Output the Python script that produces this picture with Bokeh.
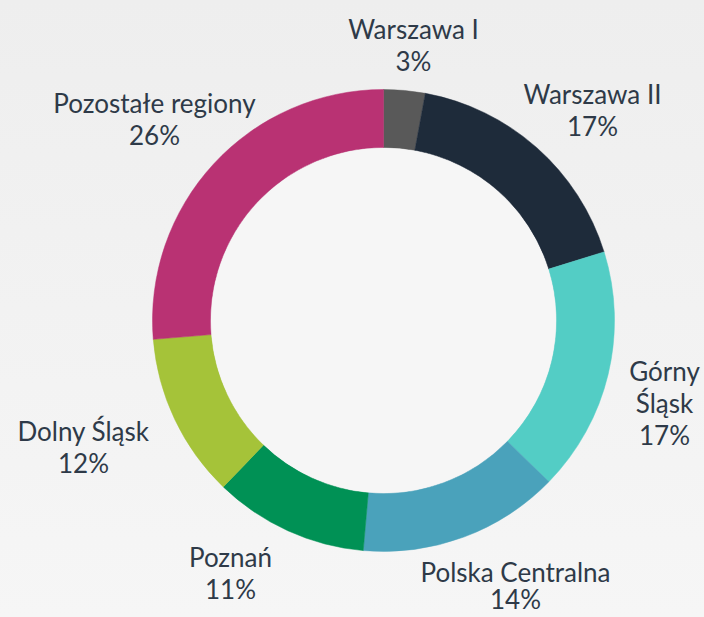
import numpy as np
from bokeh.plotting import figure
from bokeh.models import ColumnDataSource
from bokeh.core.properties import value
from bokeh.embed import file_html
from bokeh.resources import INLINE

# data (shares; labels show rounded values)
regions = ["Warszawa I", "Warszawa II", "Górny Śląsk", "Polska Centralna",
           "Poznań", "Dolny Śląsk", "Pozostałe regiony"]
shares = [2.9, 17.3, 17.1, 14.1, 10.8, 11.5, 26.3]
pct_labels = ["3%", "17%", "17%", "14%", "11%", "12%", "26%"]
colors = ["#595959", "#1e2b3a", "#53cdc5", "#4aa2bb", "#009155", "#a5c339", "#b93273"]

# label layout: name lines, x centre, first-line y centre (top-left origin), line step
label_layout = [
    (["Warszawa I"], 413, 28, 32),
    (["Warszawa II"], 592, 93, 32),
    (["Górny", "Śląsk"], 664, 370, 32),
    (["Polska Centralna"], 515, 571, 27),
    (["Poznań"], 230, 556, 32),
    (["Dolny Śląsk"], 83, 430, 32),
    (["Pozostałe regiony"], 154, 102, 32),
]

W, H = 704, 617
CX, CY = 383, H - 320
R_OUT, R_IN = 231, 173

p = figure(width=W, height=H, x_range=(0, W), y_range=(0, H),
           output_backend="svg", toolbar_location=None, min_border=0,
           background_fill_color=None, border_fill_color=None)
p.axis.visible = False
p.grid.visible = False
p.outline_line_color = None

frac = np.array(shares, dtype=float) / sum(shares)
cum = np.concatenate([[0], np.cumsum(frac)])
start = np.pi / 2 - 2 * np.pi * cum[1:]
end = np.pi / 2 - 2 * np.pi * cum[:-1]

src = ColumnDataSource(dict(x=[CX] * len(shares), y=[CY] * len(shares),
                            start=start, end=end, color=colors, region=regions))
p.annular_wedge(x="x", y="y", inner_radius=R_IN, outer_radius=R_OUT,
                start_angle="start", end_angle="end", direction="anticlock",
                fill_color="color", line_color="color", line_width=0.5, source=src)
p.circle(x=[CX], y=[CY], radius=R_IN - 0.5, fill_color="#f6f6f6", line_color=None)

tx, ty, tt = [], [], []
for (lines, x, y, step), pct in zip(label_layout, pct_labels):
    for i, t in enumerate(lines + [pct]):
        tx.append(x)
        ty.append(H - (y + i * step))
        tt.append(t)
p.text(x=tx, y=ty, text=tt, text_align="center", text_baseline="middle",
       text_font=value("Lato"), text_font_size="26px", text_color="#2e3a48")

html = file_html(p, INLINE)
html = html.replace(
    "<head>",
    "<head><style>html,body{background:linear-gradient(#eeeeee,#f6f6f6) fixed;}</style>", 1)
open("out.html", "w").write(html)
